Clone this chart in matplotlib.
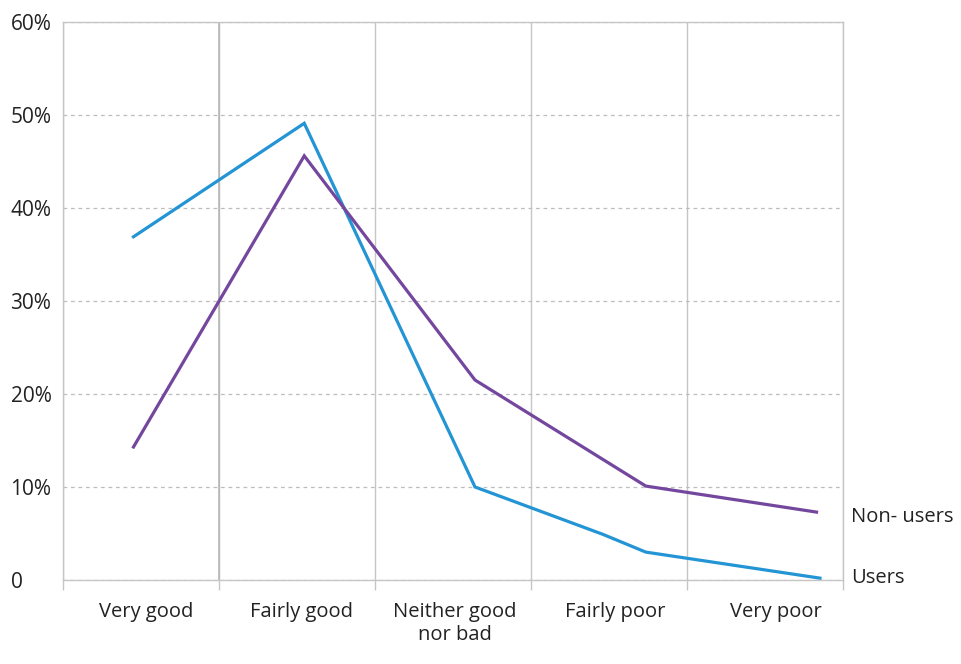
import matplotlib.pyplot as plt
from matplotlib.ticker import FixedLocator

plt.rcParams['font.family'] = ['Open Sans', 'DejaVu Sans']

# data
categories = ["Very good", "Fairly good", "Neither good\nnor bad", "Fairly poor", "Very poor"]
users_pos = [0, 1, 2, 2.75, 3, 4.02]
users = [36.9, 49.1, 10.0, 4.9, 3.0, 0.2]
non_users_pos = [0, 1, 2, 3, 4]
non_users = [14.3, 45.6, 21.5, 10.1, 7.3]
y_ticks = [0, 10, 20, 30, 40, 50, 60]
y_labels = ["0", "10%", "20%", "30%", "40%", "50%", "60%"]

blue = "#2394d4"
purple = "#74479f"
grey = "#c6c6c6"
text_col = "#222222"

fig = plt.figure(figsize=(9.62, 6.64), dpi=100)
ax = fig.add_axes([0.0658, 0.1265, 0.8105, 0.8405])

# category axis
ax.set_xlim(0.5, 5.5)
ax.set_ylim(0, 60)
# labels sit a touch right of the band centres, as in the original
ax.set_xticks([1.03, 2.03, 3.01, 4.04, 5.07])
ax.set_xticklabels(categories, fontsize=14.5, color=text_col, linespacing=1.2)
ax.xaxis.set_minor_locator(FixedLocator([0.5, 1.5, 2.5, 3.5, 4.5, 5.5]))
ax.tick_params(axis='x', which='major', length=0, pad=16)
ax.tick_params(axis='x', which='minor', length=7, width=1, color=grey, direction='out')
ax.grid(axis='x', which='minor', color=grey, linewidth=1, linestyle='-')
ax.axvline(1.5, color="#b4b4b4", linewidth=1.1, zorder=1)

ax.set_yticks(y_ticks)
ax.set_yticklabels(y_labels, fontsize=15, color=text_col, ha='left')
ax.tick_params(axis='y', length=0, pad=38)
ax.grid(axis='y', which='major', color="#bdbdbd", linewidth=0.9, linestyle=(0, (3, 3)))
ax.set_axisbelow(True)

for side in ['left', 'right', 'top', 'bottom']:
    ax.spines[side].set_color(grey)
    ax.spines[side].set_linewidth(1)

# lines sit on their own, slightly wider, index scale
ax2 = ax.twiny()
ax2.set_xlim(-0.411, 4.155)
ax2.set_ylim(0, 60)
ax2.set_xticks([])
for side in ['left', 'right', 'top', 'bottom']:
    ax2.spines[side].set_visible(False)

ax2.plot(users_pos, users, color=blue, linewidth=2.3, solid_joinstyle='miter')
ax2.plot(non_users_pos, non_users, color=purple, linewidth=2.3, solid_joinstyle='miter')

ax.text(1.01, non_users[-1] - 0.5, "Non- users", transform=ax.get_yaxis_transform(),
        fontsize=14.5, color=text_col, va='center', ha='left')
ax.text(1.01, users[-1] + 0.0, "Users", transform=ax.get_yaxis_transform(),
        fontsize=14.5, color=text_col, va='center', ha='left')

fig.savefig("out.png", dpi=100)
